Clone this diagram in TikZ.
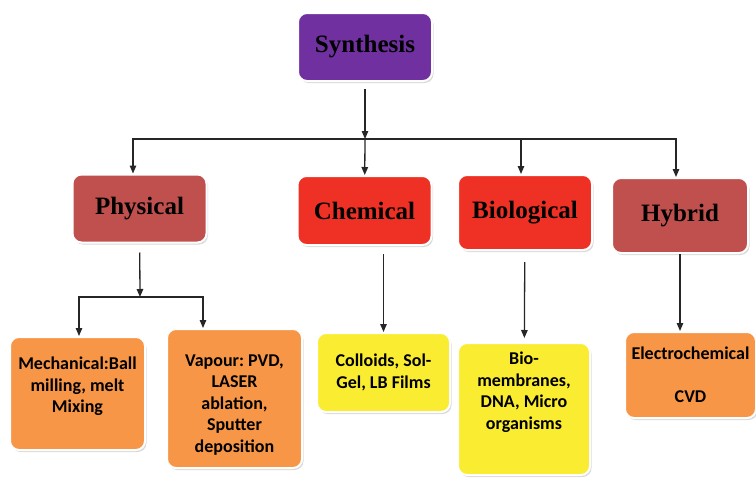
\documentclass[tikz,border=0pt]{standalone}
\usepackage{fontspec}
\newfontfamily\headfont{Liberation Serif}
\newfontfamily\boxfont{Carlito}
\usetikzlibrary{arrows.meta,shadows}
\frenchspacing

\definecolor{synpurple}{HTML}{7030A0}
\definecolor{physred}{HTML}{C0504D}
\definecolor{chemred}{HTML}{EE3124}
\definecolor{boxorange}{HTML}{F79646}
\definecolor{boxyellow}{HTML}{F9EC31}

\begin{document}
\begin{tikzpicture}[x=1pt,y=-1pt,>={Triangle[length=8pt,width=6.5pt]},
                    line width=1.3pt]
  \tikzstyle{box}=[rectangle, rounded corners=9pt, draw=white, line width=2pt,
                   drop shadow={opacity=0.3, shadow xshift=1.5pt, shadow yshift=-2pt},
                   align=center, text=black, inner sep=2pt]
  \tikzstyle{top}=[box, minimum width=134pt, minimum height=68pt,
                   font=\headfont\bfseries\fontsize{25}{30}\selectfont]
  \tikzstyle{low}=[box, font=\boxfont\bfseries\fontsize{18}{21.5}\selectfont]
  \tikzstyle{lowtext}=[align=center, text=black,
                   font=\boxfont\bfseries\fontsize{18}{21.5}\selectfont]
  \tikzstyle{link}=[draw=black!85]

  \useasboundingbox (0,0) rectangle (756,479);

	\node[top, fill=synpurple]	(0) at (365,47)		{Synthesis};
	\node[top, fill=physred]	(1) at (139.5,208.5)	{Physical};
	\node[top, fill=chemred, minimum height=69pt]	(2) at (364.5,210.5)	{Chemical};
	\node[top, fill=chemred, minimum height=75pt]	(3) at (525,212.5)	{Biological};
	\node[top, fill=physred, minimum width=136pt, minimum height=75pt]	(4) at (680,215.5)	{Hybrid};

	\node[low, fill=boxorange, minimum width=135pt, minimum height=113pt,
	      label={[lowtext, yshift=7pt]center:{Mechanical:Ball\\milling, melt\\Mixing}}]
	      (5) at (77.5,393.5) {};
	\node[low, fill=boxorange, minimum width=135pt, minimum height=139pt,
	      label={[lowtext, yshift=-6.5pt]center:{Vapour: PVD,\\LASER\\ablation,\\Sputter\\deposition}}]
	      (6) at (234.5,398.5) {};
	\node[low, fill=boxyellow, minimum width=133pt, minimum height=79pt]
	      (7) at (383.5,372.5) {Colloids, Sol-\\Gel, LB Films};
	\node[low, fill=boxyellow, minimum width=132pt, minimum height=132pt,
	      label={[lowtext, yshift=17pt]center:{Bio-\\membranes,\\DNA, Micro\\organisms}}]
	      (8) at (524,409) {};
	\node[low, fill=boxorange, minimum width=131pt, minimum height=86pt]
	      (9) at (690.5,375) {Electrochemical\\[21.5pt]CVD};

	\coordinate (bus)  at (365,139);
	\coordinate (pbus) at (140,297);

	\draw[link, ->, shorten <=7pt] (0) -- (bus);
	\draw[link, ->] (bus) -| ([xshift=-6.5pt]1.north);
	\draw[link, ->] (bus) -- (2);
	\draw[link, ->] (bus) -| ([xshift=-4pt]3.north);
	\draw[link, ->] (bus) -| ([xshift=-4pt]4.north);

	\draw[link, ->, shorten <=9pt] (1) -- (pbus);
	\draw[link, ->] (pbus) -| ([xshift=1.5pt]5.north);
	\draw[link, ->] (pbus) -| ([xshift=-31.5pt]6.north);
	\draw[link, ->, shorten <=8pt] (7.north |- 2.south) -- (7.north);
	\draw[link, ->, shorten <=11pt, shorten >=4pt] (3) -- (8);
	\draw[link, ->] (4.south) -- (4.south |- 9.north);

\end{tikzpicture}
\end{document}
